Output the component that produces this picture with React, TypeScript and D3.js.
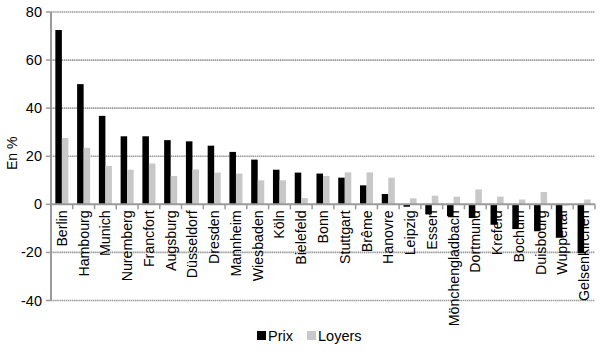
import React from "react";
import * as d3 from "d3";

const cities = ["Berlin","Hambourg","Munich","Nuremberg","Francfort","Augsburg","Düsseldorf","Dresden","Mannheim","Wiesbaden","Köln","Bielefeld","Bonn","Stuttgart","Brême","Hanovre","Leipzig","Essen","Mönchengladbach","Dortmund","Krefeld","Bochum","Duisbourg","Wuppertal","Gelsenkirchen"];
const prix = [72.5,50,36.8,28.3,28.3,26.7,26.2,24.4,21.8,18.6,14.4,13.2,12.8,11.1,7.9,4.3,-1,-4.2,-4.9,-5.7,-8.5,-10.3,-11.2,-13.9,-20.3];
const loyers = [27.6,23.5,16,14.4,17,11.8,14.5,13.2,12.8,10,10,2.6,11.8,13.3,13.3,11.1,2.5,3.6,3.2,6.2,3.2,2,5.1,-0.5,2];
const yTicks = [-40,-20,0,20,40,60,80];
const seriesNames = ["Prix","Loyers"];
const colors = ["#000000","#c8c8c8"];

export default function App() {
  const W = 600, H = 356;
  const left = 51, right = 595, top = 12, bottom = 300.5;
  const y = d3.scaleLinear().domain([-40, 80]).range([bottom, top]);
  const x = d3.scaleBand().domain(cities).range([left, right]).paddingInner(0).paddingOuter(0);
  const bw = x.bandwidth();
  const barW = bw * 0.3;
  const gap = bw * 0.2;
  const font = "Arial, 'Liberation Sans', sans-serif";
  const y0 = y(0);
  return (
    <svg width={W} height={H} style={{ position: "absolute", left: 0, top: 0, background: "#fff" }} fontFamily={font}>
      {yTicks.filter(t => t !== 0).map(t => (
        <line key={"g" + t} x1={left} x2={right} y1={y(t)} y2={y(t)} stroke="#9a9a9a" strokeWidth={1.6} strokeDasharray="1.5 0.6" />
      ))}
      {yTicks.map(t => (
        <g key={"t" + t}>
          <line x1={left - 5} x2={left} y1={y(t)} y2={y(t)} stroke="#9a9a9a" strokeWidth={1.5} />
          <text x={42} y={y(t)} dy="0.35em" textAnchor="end" fontSize={14.5} fill="#000">{t}</text>
        </g>
      ))}
      <text transform={`translate(12,${(top + bottom) / 2 - 3}) rotate(-90)`} textAnchor="middle" fontSize={14} dy="0.35em">En %</text>
      {cities.map(c => (
        <text key={"l" + c} transform={`translate(${(x(c) as number) + bw / 2},${y0 + 6}) rotate(-90)`} textAnchor="end" dy="0.35em" fontSize={14.2} fill="#000">{c}</text>
      ))}
      {cities.map((c, i) => {
        const bx = (x(c) as number) + gap;
        return (
          <g key={"b" + c}>
            <rect x={bx} width={barW} y={Math.min(y(prix[i]), y0)} height={Math.abs(y(prix[i]) - y0)} fill={colors[0]} />
            <rect x={bx + barW} width={barW} y={Math.min(y(loyers[i]), y0)} height={Math.abs(y(loyers[i]) - y0)} fill={colors[1]} />
          </g>
        );
      })}
      <line x1={left} x2={left} y1={top} y2={bottom} stroke="#9a9a9a" strokeWidth={2} />
      <line x1={left} x2={right} y1={y0} y2={y0} stroke="#9a9a9a" strokeWidth={2} />
      {d3.range(cities.length + 1).map(i => (
        <line key={"xt" + i} x1={left + i * bw} x2={left + i * bw} y1={y0} y2={y0 + 5} stroke="#9a9a9a" strokeWidth={1.5} />
      ))}
      {seriesNames.map((s, i) => (
        <g key={"lg" + s} transform={`translate(${257 + i * 50},336)`}>
          <rect x={0} y={-5} width={9} height={9} fill={colors[i]} />
          <text x={11} y={0} dy="0.35em" fontSize={14.5}>{s}</text>
        </g>
      ))}
    </svg>
  );
}
